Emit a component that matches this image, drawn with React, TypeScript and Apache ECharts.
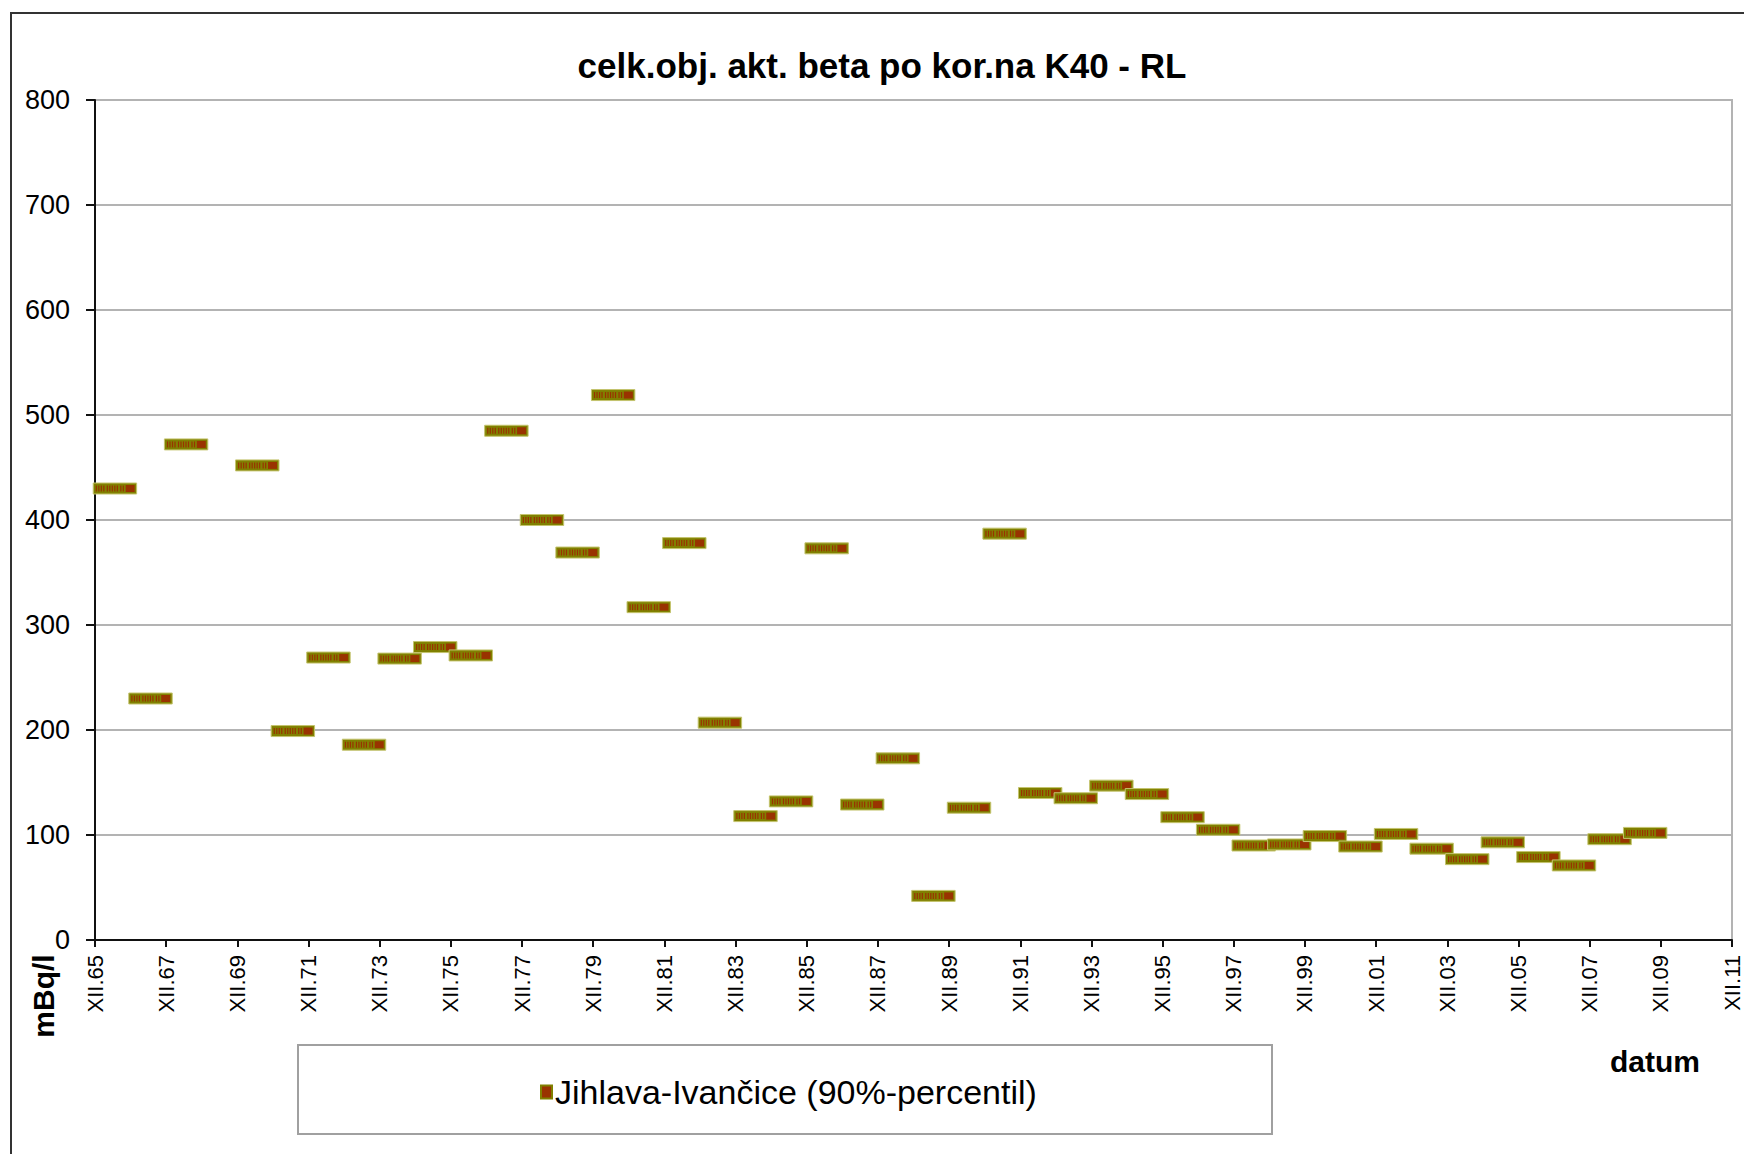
import React, { useEffect, useRef } from "react";
import * as echarts from "echarts";

// ---- data ----
const YEARS = [
  1966, 1967, 1968, 1969, 1970, 1971, 1972, 1973, 1974, 1975, 1976, 1977,
  1978, 1979, 1980, 1981, 1982, 1983, 1984, 1985, 1986, 1987, 1988, 1989,
  1990, 1991, 1992, 1993, 1994, 1995, 1996, 1997, 1998, 1999, 2000, 2001,
  2002, 2003, 2004, 2005, 2006, 2007, 2008, 2009,
];
const VALUES: (number | null)[] = [
  430, 230, 472, null, 452, 199, 269, 186, 268, 279, 271, 485,
  400, 369, 519, 317, 378, 207, 118, 132, 373, 129, 173, 42,
  126, 387, 140, 135, 147, 139, 117, 105, 90, 91, 99, 89,
  101, 87, 77, 93, 79, 71, 96, 102,
];
const SERIES_NAME = "Jihlava-Ivančice (90%-percentil)";
const TITLE = "celk.obj. akt. beta po kor.na K40 - RL";
const Y_NAME = "mBq/l";
const X_NAME = "datum";

// layout constants
const X_OFFSET = 0.56; // marker centre within the year
const MARK_SPAN = 1.22; // marker width in years
const MARK_H = 11;
const STRIPES = [2.5, 5, 7.5, 10, 13.5, 16, 18.5, 21, 23.5, 27, 29.5];

const FONT = "'Liberation Sans', Arial, Helvetica, sans-serif";

export default function App() {
  const ref = useRef<HTMLDivElement>(null);
  useEffect(() => {
    if (!ref.current) return;
    const chart = echarts.init(ref.current, undefined, { renderer: "svg" });
    const points = YEARS.map((y, i) => [y + X_OFFSET, VALUES[i]]).filter(
      (p) => p[1] !== null
    );
    const option: any = {
      animation: false,
      backgroundColor: "#ffffff",
      textStyle: { fontFamily: FONT },
      grid: {
        left: 95,
        right: 12,
        top: 100,
        bottom: 214,
        show: true,
        borderColor: "#b3b3b3",
        borderWidth: 2,
        backgroundColor: "transparent",
      },
      xAxis: {
        type: "value",
        min: 1966,
        max: 2012,
        interval: 2,
        splitLine: { show: false },
        axisLine: { show: true, onZero: false, lineStyle: { color: "#111", width: 2 } },
        axisTick: { show: true, length: 7, lineStyle: { color: "#111", width: 2 } },
        axisLabel: {
          rotate: 90,
          fontSize: 22,
          color: "#000",
          fontFamily: FONT,
          margin: 15,
          showMinLabel: true,
          showMaxLabel: true,
          formatter: (v: number) =>
            "XII." + String((v - 1) % 100).padStart(2, "0"),
        },
      },
      yAxis: {
        type: "value",
        min: 0,
        max: 800,
        interval: 100,
        splitLine: { show: true, lineStyle: { color: "#b3b3b3", width: 2 } },
        axisLine: { show: true, lineStyle: { color: "#111", width: 2 } },
        axisTick: { show: true, length: 9, lineStyle: { color: "#111", width: 2 } },
        axisLabel: {
          fontSize: 27,
          color: "#000",
          fontFamily: FONT,
          margin: 25,
        },
      },
      legend: {
        left: 535,
        top: 1070,
        itemWidth: 11,
        itemHeight: 13,
        textStyle: { fontSize: 34, color: "#000", fontFamily: FONT, padding: [0, 0, 0, -2] },
        data: [
          {
            name: SERIES_NAME,
            icon: "rect",
            itemStyle: { color: "#993300", borderColor: "#808000", borderWidth: 2 },
          },
        ],
      },
      graphic: [
        {
          type: "rect",
          shape: { x: 11, y: 13, width: 1780, height: 1180 },
          style: { fill: "none", stroke: "#333", lineWidth: 2 },
          silent: true,
        },
        {
          type: "rect",
          shape: { x: 298, y: 1045, width: 974, height: 89 },
          style: { fill: "none", stroke: "#a0a0a0", lineWidth: 2 },
          silent: true,
        },
        {
          type: "text",
          x: 882,
          y: 65,
          style: {
            text: TITLE,
            font: `bold 35px ${FONT}`,
            fill: "#000",
            textAlign: "center",
            textVerticalAlign: "middle",
            align: "center",
            verticalAlign: "middle",
          },
        },
        {
          type: "text",
          x: 1655,
          y: 1061,
          style: {
            text: X_NAME,
            font: `bold 30px ${FONT}`,
            fill: "#000",
            textAlign: "center",
            textVerticalAlign: "middle",
            align: "center",
            verticalAlign: "middle",
          },
        },
        {
          type: "text",
          x: 43,
          y: 996,
          rotation: Math.PI / 2,
          style: {
            text: Y_NAME,
            font: `bold 30px ${FONT}`,
            fill: "#000",
            textAlign: "center",
            textVerticalAlign: "middle",
            align: "center",
            verticalAlign: "middle",
          },
        },
      ],
      series: [
        {
          name: SERIES_NAME,
          type: "custom",
          clip: false,
          data: points,
          encode: { x: 0, y: 1 },
          itemStyle: { color: "#993300" },
          renderItem: (_params: any, api: any) => {
            const c = api.coord([api.value(0), api.value(1)]);
            const w = api.size([MARK_SPAN, 0])[0];
            const h = MARK_H;
            const x0 = c[0] - w / 2;
            const y0 = c[1] - h / 2;
            const children: any[] = [
              {
                type: "rect",
                shape: { x: x0, y: y0, width: w, height: h },
                style: { fill: "#808000", stroke: "#c4c46e", lineWidth: 1 },
              },
            ];
            STRIPES.forEach((s) => {
              children.push({
                type: "rect",
                shape: { x: x0 + s, y: y0 + 2.5, width: 1.2, height: h - 5 },
                style: { fill: "#993300" },
              });
            });
            children.push({
              type: "rect",
              shape: { x: x0 + w - 11, y: y0 + 2, width: 9, height: h - 4 },
              style: { fill: "#993300" },
            });
            return { type: "group", children };
          },
        },
      ],
    };
    chart.setOption(option);
    return () => chart.dispose();
  }, []);
  return (
    <div
      ref={ref}
      style={{ position: "fixed", left: 0, top: 0, width: 1744, height: 1154, background: "#fff" }}
    />
  );
}
